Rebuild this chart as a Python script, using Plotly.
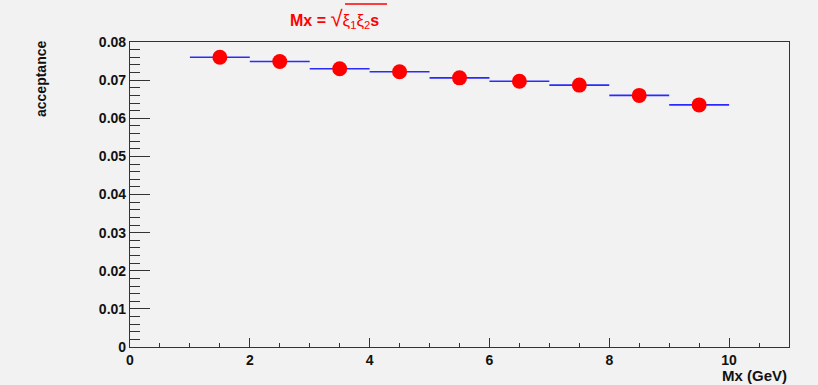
import plotly.graph_objects as go

# Data
bin_centers = [1.5, 2.5, 3.5, 4.5, 5.5, 6.5, 7.5, 8.5, 9.5]
acceptance = [0.0760, 0.0749, 0.0730, 0.0722, 0.0706, 0.0697, 0.0687, 0.0660, 0.0635]
bin_width = 1.0

x_tick_vals = [0, 2, 4, 6, 8, 10]
y_tick_vals = [0, 0.01, 0.02, 0.03, 0.04, 0.05, 0.06, 0.07, 0.08]
y_tick_text = ["0", "0.01", "0.02", "0.03", "0.04", "0.05", "0.06", "0.07", "0.08"]

BG = "#f2f2f2"
AX = "#333333"
FONT = "Liberation Sans, Arial, Helvetica, sans-serif"

# histogram segments
hx, hy = [], []
for c, v in zip(bin_centers, acceptance):
    hx += [c - bin_width / 2, c + bin_width / 2, None]
    hy += [v, v, None]

fig = go.Figure()
fig.add_trace(go.Scatter(x=hx, y=hy, mode="lines",
                         line=dict(color="#2a2aff", width=1.6),
                         hoverinfo="skip", showlegend=False))
fig.add_trace(go.Scatter(x=bin_centers, y=acceptance, mode="markers",
                         marker=dict(color="#ff0000", size=15, line=dict(width=0)),
                         showlegend=False))

axis_common = dict(showgrid=False, zeroline=False, showline=True, linecolor=AX,
                   linewidth=1.2, mirror=True, ticks="inside", tickcolor=AX,
                   tickfont=dict(family=FONT, size=14, color="#111111", weight="bold"))

fig.update_xaxes(range=[0, 11], tickvals=x_tick_vals,
                 ticklen=9, tickwidth=1.2,
                 minor=dict(dtick=0.5, ticks="inside", ticklen=4, tickcolor=AX, showgrid=False),
                 **axis_common)
fig.update_yaxes(range=[0, 0.08], tickvals=y_tick_vals, ticktext=y_tick_text,
                 ticklen=20, tickwidth=1.2,
                 minor=dict(dtick=0.002, ticks="inside", ticklen=10, tickcolor=AX, showgrid=False),
                 **axis_common)

fig.update_layout(
    width=818, height=385,
    margin=dict(l=130, r=29, t=42, b=38),
    paper_bgcolor=BG, plot_bgcolor=BG,
    font=dict(family=FONT, color="#111111"),
    annotations=[
        dict(text="<b>acceptance</b>", textangle=-90, xref="paper", yref="paper",
             x=-0.135, y=1.01, xanchor="center", yanchor="top", showarrow=False,
             font=dict(size=14, family=FONT, color="#111111")),
        dict(text="<b>Mx (GeV)</b>", xref="paper", yref="paper",
             x=1.0, y=-0.06, xanchor="right", yanchor="top", showarrow=False,
             font=dict(size=15, family=FONT, color="#111111")),
        dict(text="<b>Mx = </b><span style='font-size:22px'>√</span><span style='font-size:17px'>ξ</span><sub>1</sub><span style='font-size:17px'>ξ</span><sub>2</sub><b>s</b>",
             xref="paper", yref="paper", x=(288 - 130) / 659, y=1 + (42 - 18) / 305,
             xanchor="left", yanchor="middle", showarrow=False,
             font=dict(size=16, family=FONT, color="#ff0000")),
    ],
    shapes=[
        dict(type="line", xref="paper", yref="paper",
             x0=(345 - 130) / 659, x1=(387 - 130) / 659,
             y0=1 + (42 - 4) / 305, y1=1 + (42 - 4) / 305,
             line=dict(color="#ff0000", width=1.5)),
    ],
)

fig.write_html("out.html")
